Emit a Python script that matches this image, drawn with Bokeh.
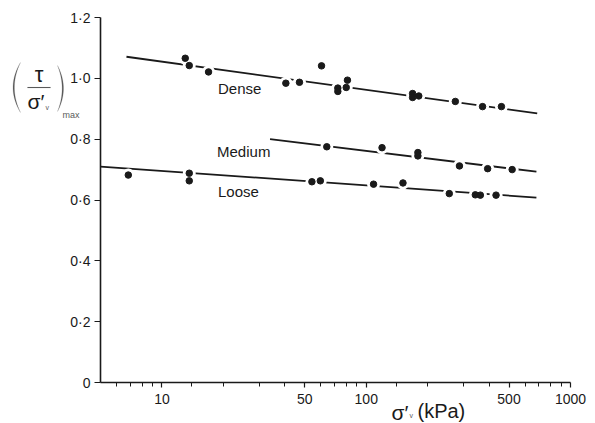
import math
from bokeh.plotting import figure
from bokeh.models import Range1d, FixedTicker, Label, PolyAnnotation
from bokeh.embed import file_html
from bokeh.resources import INLINE

# ---- data ----
dense_x = [13.0, 13.6, 16.9, 40.4, 47.1, 60.4, 72.6, 72.6, 79.8, 80.9, 168.6, 168.6, 180.8, 273, 371, 459]
dense_y = [1.066, 1.042, 1.021, 0.984, 0.987, 1.041, 0.968, 0.957, 0.970, 0.994, 0.950, 0.937, 0.942, 0.924, 0.907, 0.907]
medium_x = [64.1, 119.5, 179, 179, 286, 393, 518]
medium_y = [0.775, 0.772, 0.756, 0.745, 0.712, 0.703, 0.700]
loose_x = [6.84, 13.6, 13.6, 54.2, 59.6, 108.6, 151.3, 255, 342, 362, 432]
loose_y = [0.682, 0.688, 0.663, 0.660, 0.663, 0.652, 0.656, 0.621, 0.617, 0.616, 0.616]

dense_fit_x = [6.7, 687]
dense_fit_y = [1.071, 0.885]
medium_fit_x = [33.8, 681]
medium_fit_y = [0.800, 0.693]
loose_fit_x = [5.0, 681]
loose_fit_y = [0.710, 0.608]

series_names = ["Dense", "Medium", "Loose"]

x_bounds = (5, 1000)
y_bounds = (0, 1.2)
x_ticks = [10, 50, 100, 500, 1000]
x_tick_labels = ["10", "50", "100", "500", "1000"]
x_minor_ticks = [6, 7, 8, 9, 14, 20, 30, 40, 60, 70, 80, 90, 140, 200, 300, 400, 600, 700, 800, 900]
y_ticks = [0, 0.2, 0.4, 0.6, 0.8, 1.0, 1.2]
y_tick_labels = ["0", "0·2", "0·4", "0·6", "0·8", "1·0", "1·2"]

FONT = "Liberation Sans"
INK = "#1a1a1a"
GREY = "#5a5a5a"

W, H = 595, 423
# plotting box inside the page (pixels): axis corner and far ends
AX_L, AX_R, AX_T, AX_B = 100, 570, 17, 382
dec = (AX_R - AX_L) / (math.log10(x_bounds[1]) - math.log10(x_bounds[0]))
x_lo = 10 ** (math.log10(x_bounds[0]) - AX_L / dec)
x_hi = 10 ** (math.log10(x_bounds[1]) + (W - AX_R) / dec)
ppu = (AX_B - AX_T) / (y_bounds[1] - y_bounds[0])
y_lo = y_bounds[0] - (H - AX_B) / ppu
y_hi = y_bounds[1] + AX_T / ppu

p = figure(width=W, height=H, x_axis_type="log",
           x_range=Range1d(x_lo, x_hi), y_range=Range1d(y_lo, y_hi),
           output_backend="svg", toolbar_location=None, min_border=0)
p.outline_line_color = None
p.xgrid.visible = False
p.ygrid.visible = False

# axes, pinned at the data origin so the whole page is the plotting frame
xa, ya = p.xaxis[0], p.yaxis[0]
xa.fixed_location = y_bounds[0]
ya.fixed_location = x_bounds[0]
xa.bounds = x_bounds
ya.bounds = y_bounds
xa.ticker = FixedTicker(ticks=x_ticks, minor_ticks=x_minor_ticks)
xa.major_label_overrides = {t: l for t, l in zip(x_ticks, x_tick_labels)}
ya.ticker = FixedTicker(ticks=y_ticks)
ya.major_label_overrides = {t: l for t, l in zip(y_ticks, y_tick_labels)}
for ax in (xa, ya):
    ax.axis_line_color = INK
    ax.axis_line_width = 1.6
    ax.major_tick_line_color = INK
    ax.major_tick_line_width = 1.2
    ax.major_tick_in = 0
    ax.minor_tick_in = 0
    ax.minor_tick_line_color = INK
    ax.minor_tick_line_width = 1.0
    ax.major_label_text_font = FONT
    ax.major_label_text_font_size = "14px"
    ax.major_label_text_color = INK
xa.major_tick_out = 5
xa.minor_tick_out = 4
xa.major_label_standoff = 6
ya.major_tick_out = 6
ya.minor_tick_line_color = None
ya.major_label_standoff = 4

# fitted lines
for fx, fy in ((dense_fit_x, dense_fit_y), (medium_fit_x, medium_fit_y), (loose_fit_x, loose_fit_y)):
    p.line(fx, fy, line_color=INK, line_width=1.8)

# white halos break the lines around the points, then the points
all_x = dense_x + medium_x + loose_x
all_y = dense_y + medium_y + loose_y
p.scatter(all_x, all_y, size=13, fill_color="white", line_color=None)
p.scatter(all_x, all_y, size=6.5, fill_color=INK, line_color=INK)

# series labels
for name, lx, ly in zip(series_names, [18.8, 18.6, 18.8], [0.965, 0.759, 0.628]):
    p.add_layout(Label(x=lx, y=ly, text=name, text_font=FONT, text_font_size="15px",
                       text_color=INK, text_baseline="middle", text_align="left"))

# page-pixel placed annotations (screen units: x from left, y up from bottom)
def lab(text, px, py, size, align="left", color=INK):
    p.add_layout(Label(x=px, y=H - py, x_units="screen", y_units="screen",
                       text=text, text_font=FONT, text_font_size=size,
                       text_color=color, text_align=align, text_baseline="middle"))

def paren(x_end, y_top, y_bot, bulge, thick, n=24):
    # thin crescent shaped bracket; bulge < 0 opens to the right, > 0 to the left
    cy, half = (y_top + y_bot) / 2, (y_bot - y_top) / 2
    us = [-1 + 2 * i / n for i in range(n + 1)]
    outer = [(x_end + bulge * (1 - u * u), cy + half * u) for u in us]
    sgn = 1 if bulge > 0 else -1
    inner = [(x_end + (bulge - sgn * thick) * (1 - u * u), cy + half * u) for u in reversed(us)]
    pts = outer + inner
    p.add_layout(PolyAnnotation(xs=[q[0] for q in pts], ys=[H - q[1] for q in pts],
                                xs_units="screen", ys_units="screen",
                                fill_color=GREY, fill_alpha=1, line_color=GREY,
                                line_width=0.3, line_alpha=0.6))

# y-axis label: ( tau / sigma'_v )_max
paren(20, 62, 112, -7.5, 1.4)
paren(57, 65, 111, 6.0, 1.4)
lab("τ", 38.5, 74, "22px", align="center")
p.add_layout(PolyAnnotation(xs=[27, 50, 50, 27], ys=[H - 86.6, H - 86.6, H - 87.6, H - 87.6],
                            xs_units="screen", ys_units="screen",
                            fill_color=GREY, fill_alpha=1, line_color=GREY, line_width=0.3))
lab("σ′", 27, 101, "21px")
lab("v", 45, 106.5, "7px", color=GREY)
lab("max", 62, 114, "9px", color=GREY)

# x-axis label: sigma'_v (kPa)
lab("σ′", 391, 411.5, "21px")
lab("v", 409, 415, "7px", color=GREY)
lab("(kPa)", 417, 410, "20px")

open("out.html", "w").write(file_html(p, INLINE))
